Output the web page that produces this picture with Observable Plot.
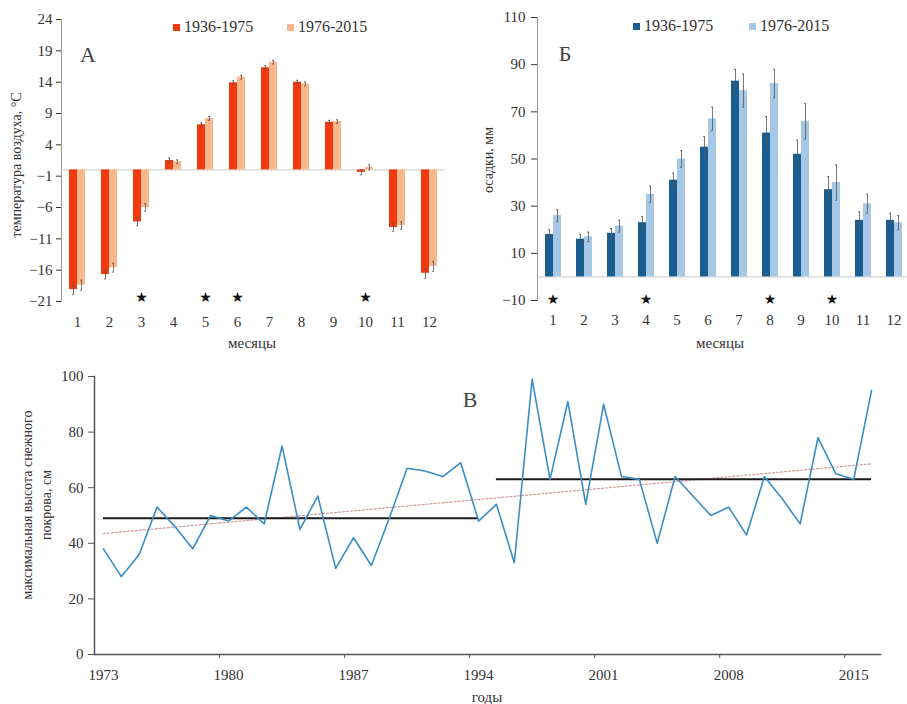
<!DOCTYPE html>
<html><head><meta charset="utf-8">
<script src="https://cdn.jsdelivr.net/npm/d3@7"></script>
<script src="https://cdn.jsdelivr.net/npm/@observablehq/plot@0.6"></script>
<style>
body{margin:0;background:#fff;}
#root{position:relative;width:907px;height:704px;overflow:hidden;font-family:"Liberation Serif","Times New Roman",serif;color:#333;background:#fff;}
.panel{position:absolute;}
.panel svg{max-width:none !important;display:block;}
.lbl{position:absolute;white-space:nowrap;font-size:15px;color:#333;transform:translate(-50%,-50%);line-height:1;}
.rot{transform:translate(-50%,-50%) rotate(-90deg);text-align:center;}
.big{font-size:22px;color:#444;}
.leg{position:absolute;white-space:nowrap;font-size:16px;color:#333;transform:translateY(-50%);line-height:1;display:flex;align-items:center;}
.sw{display:inline-block;width:7px;height:7px;margin-right:4px;}
</style></head>
<body>
<div id="root">
  <div id="pa" class="panel" style="left:0;top:0;width:455px;height:350px"></div>
  <div id="pb" class="panel" style="left:455px;top:0;width:465px;height:350px"></div>
  <div id="pc" class="panel" style="left:0;top:350px;width:907px;height:354px"></div>

  <div class="lbl rot" style="left:17px;top:165px;font-size:14px">температура воздуха, °С</div>
  <div class="lbl big" style="left:88px;top:55px">А</div>
  <div class="leg" style="left:173px;top:27px"><span class="sw" style="background:#f23a0e"></span>1936-1975</div>
  <div class="leg" style="left:287px;top:27px"><span class="sw" style="background:#fbb68b"></span>1976-2015</div>
  <div class="lbl" style="left:252px;top:343px">месяцы</div>

  <div class="lbl rot" style="left:489px;top:160px;font-size:14px">осадки, мм</div>
  <div class="lbl big" style="left:565px;top:54px">Б</div>
  <div class="leg" style="left:633px;top:26px"><span class="sw" style="background:#1a5e91"></span>1936-1975</div>
  <div class="leg" style="left:749px;top:26px"><span class="sw" style="background:#a6c8e6"></span>1976-2015</div>
  <div class="lbl" style="left:720px;top:343px">месяцы</div>

  <div class="lbl rot" style="left:37px;top:505px;font-size:14px;line-height:19px">максимальная высота снежного<br>покрова, см</div>
  <div class="lbl big" style="left:470px;top:400px">В</div>
  <div class="lbl" style="left:487px;top:697px">годы</div>
</div>
<script>
// ---------- data ----------
const months = [1,2,3,4,5,6,7,8,9,10,11,12];
const periods = ["1936-1975","1976-2015"];

const temp1 = [-19.1,-16.7,-8.3,1.5,7.2,13.9,16.3,14.0,7.6,-0.4,-9.2,-16.5];
const temp2 = [-18.4,-15.6,-6.0,1.3,8.2,14.8,17.2,13.7,7.7,0.4,-8.9,-15.4];
const tempErr1 = [0.8,0.7,0.6,0.4,0.3,0.3,0.3,0.3,0.3,0.4,0.6,0.8];
const tempErr2 = [0.8,0.7,0.6,0.3,0.3,0.3,0.3,0.3,0.3,0.4,0.6,0.8];
const tempStars = [3,5,6,10];
const tempTicks = [-21,-16,-11,-6,-1,4,9,14,19,24];

const precip1 = [18,16,18.5,23,41,55,83,61,52,37,24,24];
const precip2 = [26,17,21.5,35,50,67,79,82,66,40,31,23];
const precipErr1 = [2,2,2,2.5,3,4.5,5,7,6,5.5,3.5,3];
const precipErr2 = [2.5,2,2.5,3.5,3.5,5,7,6,7.5,7.5,4,3];
const precipStars = [1,4,8,10];
const precipTicks = [-10,10,30,50,70,90,110];

const years = [1973,1974,1975,1976,1977,1978,1979,1980,1981,1982,1983,1984,1985,1986,1987,1988,1989,1990,1991,1992,1993,1994,1995,1996,1997,1998,1999,2000,2001,2002,2003,2004,2005,2006,2007,2008,2009,2010,2011,2012,2013,2014,2015,2016];
const snow = [38,28,36,53,46,38,50,48,53,47,75,45,57,31,42,32,49,67,66,64,69,48,54,33,99,63,91,54,90,64,63,40,64,57,50,53,43,64,56,47,78,65,63,95];
const yearTicks = [1973,1980,1987,1994,2001,2008,2015];
const yearTickMarks = [1979.5,1986.5,1993.5,2000.5,2007.5,2014.5];
const snowTicks = [0,20,40,60,80,100];
const meanFrom = [1973,1995];
const meanTo = [1994,2016];
const meanValue = [49,63];
const trendYears = [1973,2016];
const trendValues = [43.5,68.6];

// ---------- build ----------
const font = "'Liberation Serif','Times New Roman',serif";
function grouped(a, b, ea, eb){
  return months.flatMap((m,i)=>[
    {month:m, period:periods[0], value:a[i], err:ea[i]},
    {month:m, period:periods[1], value:b[i], err:eb[i]}
  ]);
}

function barPanel(data, stars, yDomain, yTicks, colors, opts){
  return Plot.plot({
    width: opts.width, height: 350,
    marginLeft: opts.ml, marginRight: opts.mr, marginTop: opts.mt, marginBottom: 350 - opts.bottom,
    style:{fontFamily:font, fontSize:"15px", color:"#333", background:"transparent", overflow:"visible"},
    fx:{domain:months, padding:0, axis:"bottom", tickSize:0, tickPadding:opts.xpad, label:null},
    x:{domain:periods, axis:null, paddingInner:0, paddingOuter:opts.po},
    y:{domain:yDomain, ticks:yTicks, tickSize:opts.ts, tickPadding:opts.tp, label:null, grid:false},
    color:{domain:periods, range:colors},
    marks:[
      Plot.frame({anchor:"left", stroke:"#999", facetAnchor:"left"}),
      Plot.ruleY([0], {stroke:"#c8c8c8"}),
      Plot.barY(data, {fx:"month", x:"period", y:"value", fill:"period", inset:0}),
      Plot.ruleX(data, {fx:"month", x:"period", y1:d=>d.value-d.err, y2:d=>d.value+d.err, stroke:"#555", strokeWidth:1, strokeOpacity:0.8}),
      Plot.tickY(data, {fx:"month", x:"period", y:d=>d.value+d.err, stroke:"#555", strokeOpacity:0.8, insetLeft:3, insetRight:3}),
      Plot.tickY(data, {fx:"month", x:"period", y:d=>d.value-d.err, stroke:"#555", strokeOpacity:0.8, insetLeft:3, insetRight:3}),
      Plot.text(stars, {fx:d=>d, frameAnchor:"bottom", lineAnchor:"middle", dy:opts.sdy, text:()=>"★", fontSize:14, fontFamily:"DejaVu Sans", fill:"#111"})
    ]
  });
}

const A = barPanel(grouped(temp1,temp2,tempErr1,tempErr2), tempStars, [-21,24], tempTicks,
  ["#f23a0e","#fbb68b"], {width:455, ml:60, mr:10, mt:19, bottom:301, xpad:15, po:0.78, ts:5, tp:4, sdy:-4});
document.getElementById("pa").append(A);

const B = barPanel(grouped(precip1,precip2,precipErr1,precipErr2), precipStars, [-10,110], precipTicks,
  ["#1a5e91","#a6c8e6"], {width:465, ml:80, mr:10, mt:17, bottom:300, xpad:14, po:0.84, ts:6, tp:6, sdy:-1});
document.getElementById("pb").append(B);

const snowData = years.map((y,i)=>({year:y, value:snow[i]}));
const means = meanValue.map((v,i)=>({from:meanFrom[i], to:meanTo[i], value:v}));
const trend = trendYears.map((y,i)=>({year:y, value:trendValues[i]}));

const C = Plot.plot({
  width:907, height:354, marginLeft:94, marginRight:27, marginTop:26, marginBottom:50,
  style:{fontFamily:font, fontSize:"15px", color:"#333", background:"transparent", overflow:"visible"},
  x:{domain:[years[0]-0.5, years[years.length-1]+0.5], axis:null},
  y:{domain:[0,100], axis:null},
  marks:[
    Plot.axisY(snowTicks, {tickSize:6, tickPadding:5, label:null, stroke:"#555"}),
    Plot.axisX(yearTicks, {tickSize:0, tickPadding:15, tickFormat:"d", label:null}),
    Plot.axisX(yearTickMarks, {tickSize:4, tickFormat:()=>"", label:null, stroke:"#555"}),
    Plot.frame({anchor:"left", stroke:"#555", strokeWidth:1.5}),
    Plot.frame({anchor:"bottom", stroke:"#555", strokeWidth:1.5}),
    Plot.line(trend, {x:"year", y:"value", stroke:"#cf9b9b", strokeWidth:1.2, strokeDasharray:"2,2"}),
    Plot.ruleY(means, {x1:"from", x2:"to", y:"value", stroke:"#1a1a1a", strokeWidth:2}),
    Plot.line(snowData, {x:"year", y:"value", stroke:"#3b8dc6", strokeWidth:1.6})
  ]
});
document.getElementById("pc").append(C);
</script>
</body></html>
